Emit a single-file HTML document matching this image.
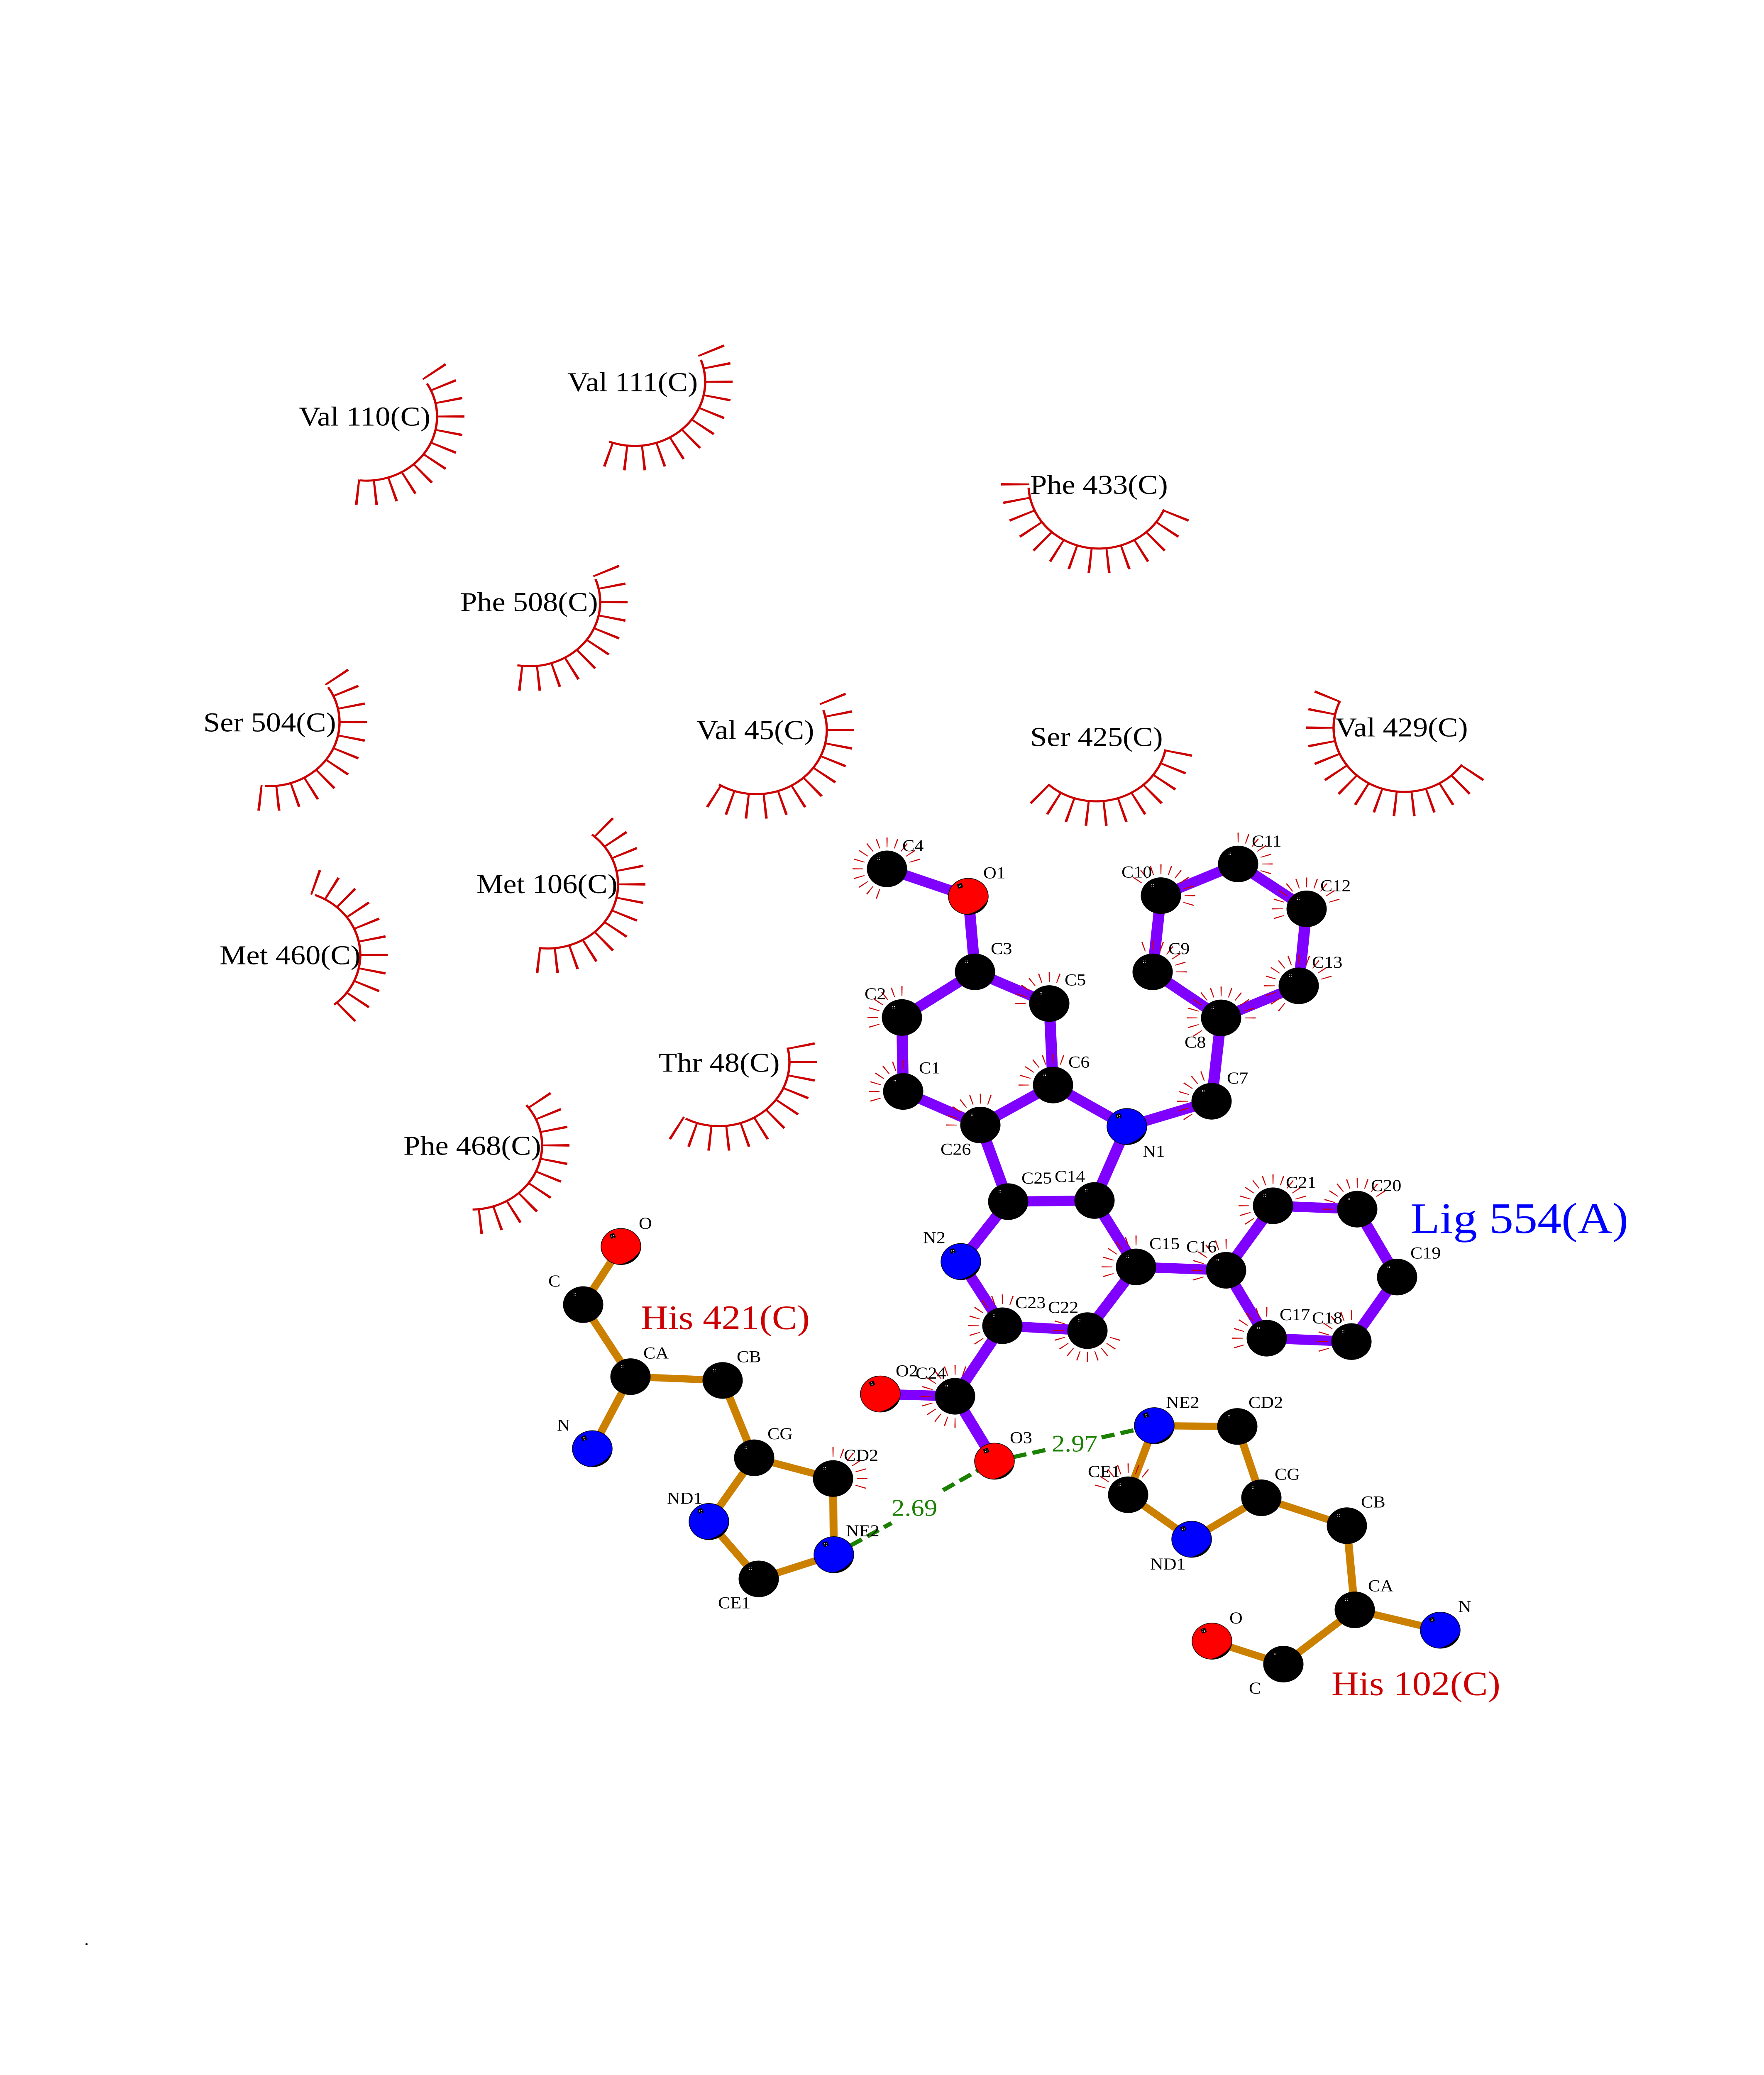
<!DOCTYPE html>
<html><head><meta charset="utf-8"><title>Lig 554(A)</title>
<style>
html,body{margin:0;padding:0;background:#fff;width:100%;height:100%;overflow:hidden}
svg{display:block;position:fixed;left:0;top:0;width:100vw;height:100vh}
text{font-family:"Liberation Serif",serif;fill:#000}
.l{font-size:44px}
.r{font-size:72.4px}
.p{stroke:#8000ff;stroke-width:27;fill:none}
.o{stroke:#cc8000;stroke-width:19;fill:none}
.g{stroke:#1a8000;stroke-width:11;fill:none;stroke-dasharray:32 15}
.a{stroke:#cc0000;stroke-width:5.5;fill:none}
.b{stroke:#cc0000;stroke-width:68;fill:none}
.s{stroke:#cc0000;stroke-width:26;fill:none}
.b11{stroke-dasharray:5.5 36.81 5.5 36.81 5.5 36.81 5.5 36.81 5.5 36.81 5.5 36.81 5.5 36.81 5.5 36.81 5.5 36.81 5.5 36.81 5.5 2000}
.b12{stroke-dasharray:5.5 36.81 5.5 36.81 5.5 36.81 5.5 36.81 5.5 36.81 5.5 36.81 5.5 36.81 5.5 36.81 5.5 36.81 5.5 36.81 5.5 36.81 5.5 2000}
.b13{stroke-dasharray:5.5 36.81 5.5 36.81 5.5 36.81 5.5 36.81 5.5 36.81 5.5 36.81 5.5 36.81 5.5 36.81 5.5 36.81 5.5 36.81 5.5 36.81 5.5 36.81 5.5 2000}
.b14{stroke-dasharray:5.5 36.81 5.5 36.81 5.5 36.81 5.5 36.81 5.5 36.81 5.5 36.81 5.5 36.81 5.5 36.81 5.5 36.81 5.5 36.81 5.5 36.81 5.5 36.81 5.5 36.81 5.5 2000}
.b15{stroke-dasharray:5.5 36.81 5.5 36.81 5.5 36.81 5.5 36.81 5.5 36.81 5.5 36.81 5.5 36.81 5.5 36.81 5.5 36.81 5.5 36.81 5.5 36.81 5.5 36.81 5.5 36.81 5.5 36.81 5.5 2000}
.s7{stroke-dasharray:2.5 19.49 2.5 19.49 2.5 19.49 2.5 19.49 2.5 19.49 2.5 19.49 2.5 1000}
.s9{stroke-dasharray:2.5 19.49 2.5 19.49 2.5 19.49 2.5 19.49 2.5 19.49 2.5 19.49 2.5 19.49 2.5 19.49 2.5 1000}
.s10{stroke-dasharray:2.5 19.49 2.5 19.49 2.5 19.49 2.5 19.49 2.5 19.49 2.5 19.49 2.5 19.49 2.5 19.49 2.5 19.49 2.5 1000}
.s11{stroke-dasharray:2.5 19.49 2.5 19.49 2.5 19.49 2.5 19.49 2.5 19.49 2.5 19.49 2.5 19.49 2.5 19.49 2.5 19.49 2.5 19.49 2.5 1000}
.s12{stroke-dasharray:2.5 19.49 2.5 19.49 2.5 19.49 2.5 19.49 2.5 19.49 2.5 19.49 2.5 19.49 2.5 19.49 2.5 19.49 2.5 19.49 2.5 19.49 2.5 1000}
.s13{stroke-dasharray:2.5 19.49 2.5 19.49 2.5 19.49 2.5 19.49 2.5 19.49 2.5 19.49 2.5 19.49 2.5 19.49 2.5 19.49 2.5 19.49 2.5 19.49 2.5 19.49 2.5 1000}
.s14{stroke-dasharray:2.5 19.49 2.5 19.49 2.5 19.49 2.5 19.49 2.5 19.49 2.5 19.49 2.5 19.49 2.5 19.49 2.5 19.49 2.5 19.49 2.5 19.49 2.5 19.49 2.5 19.49 2.5 1000}
</style></head>
<body>
<svg xmlns="http://www.w3.org/2000/svg" viewBox="0 0 4250 5500" preserveAspectRatio="none">
<defs>
<g id="c"><circle r="48.5" fill="#000"/><g fill="#fff"><circle cx="-22" cy="-29" r="1"/><circle cx="-18" cy="-29" r="1"/><circle cx="-22" cy="-25" r="1"/><circle cx="-18" cy="-25" r="1"/></g></g>
<g id="mark"><rect x="-26" y="-34" width="12" height="12" fill="#000" transform="rotate(-20 -20 -28)"/><g fill="#fff"><circle cx="-22" cy="-30" r="1"/><circle cx="-18" cy="-29" r="1"/><circle cx="-22" cy="-26" r="1"/><circle cx="-18" cy="-25" r="1"/></g>
<path d="M47 9A48 48 0 0 1-5 47.7A74 74 0 0 0 47 9Z" fill="#000"/></g>
<g id="rd"><circle r="48" fill="#ff0000" stroke="#000" stroke-width="1.5"/><use href="#mark"/></g>
<g id="bl"><circle r="48" fill="#0000ff" stroke="#000" stroke-width="1.5"/><use href="#mark"/></g>
</defs>
<rect width="4250" height="5500" fill="#fff"/>

<!-- hydrophobic arcs -->
<g>
<circle class="a" r="170" stroke-dasharray="374 2000" transform="translate(883 1104) rotate(-31)"/>
<circle class="b b12" r="202" transform="translate(883 1104) rotate(-36.8)"/>
<circle class="a" r="170" stroke-dasharray="389 2000" transform="translate(1529 1012) rotate(-20)"/>
<circle class="b b12" r="202" transform="translate(1529 1012) rotate(-24.8)"/>
<circle class="a" r="170" stroke-dasharray="457 2000" transform="translate(2648 1284) rotate(23)"/>
<circle class="b b14" r="202" transform="translate(2648 1284) rotate(23.2)"/>
<circle class="a" r="170" stroke-dasharray="359 2000" transform="translate(1276 1596) rotate(-21)"/>
<circle class="b b11" r="202" transform="translate(1276 1596) rotate(-24.8)"/>
<circle class="a" r="170" stroke-dasharray="374 2000" transform="translate(648 1914) rotate(-33)"/>
<circle class="b b12" r="202" transform="translate(648 1914) rotate(-36.8)"/>
<circle class="a" r="170" stroke-dasharray="415 2000" transform="translate(1822 1935) rotate(-18)"/>
<circle class="b b13" r="202" transform="translate(1822 1935) rotate(-24.8)"/>
<circle class="a" r="170" stroke-dasharray="359 2000" transform="translate(2641 1954) rotate(11)"/>
<circle class="b b11" r="202" transform="translate(2641 1954) rotate(11.2)"/>
<circle class="a" r="170" stroke-dasharray="501 2000" transform="translate(3383 1929) rotate(35)"/>
<circle class="b b15" r="202" transform="translate(3383 1929) rotate(35.2)"/>
<circle class="a" r="170" stroke-dasharray="436 2000" transform="translate(1319 2344) rotate(-51)"/>
<circle class="b b13" r="202" transform="translate(1319 2344) rotate(-48.8)"/>
<circle class="a" r="170" stroke-dasharray="356 2000" transform="translate(698 2531) rotate(-69)"/>
<circle class="b b11" r="202" transform="translate(698 2531) rotate(-72.8)"/>
<circle class="a" r="170" stroke-dasharray="389 2000" transform="translate(1732 2815) rotate(-13)"/>
<circle class="b b12" r="202" transform="translate(1732 2815) rotate(-12.8)"/>
<circle class="a" r="170" stroke-dasharray="380 2000" transform="translate(1136 3036) rotate(-39)"/>
<circle class="b b11" r="202" transform="translate(1136 3036) rotate(-36.8)"/>
</g>

<!-- ligand bonds -->
<path class="p" d="M2137 2303L2333 2376L2349 2576L2173 2697L2176 2893L2362 2982L2537 2876L2528 2660L2349 2576M2537 2876L2715 2986L2919 2919L2942 2698L2777 2576L2797 2374L2983 2290L3148 2409L3129 2613L2942 2698M2362 2982L2429 3185L2637 3182L2715 2986M2429 3185L2315 3344L2415 3514L2620 3527L2737 3358L2637 3182M2737 3358L2954 3367L3067 3196L3270 3205L3366 3385L3256 3556L3052 3547L2954 3367M2415 3514L2301 3701L2121 3695M2301 3701L2396 3873"/>

<!-- residue bonds -->
<path class="o" d="M1496 3304L1405 3458L1519 3649L1427 3840M1519 3649L1741 3659L1817 3864L2007 3919L2009 4121L1828 4185L1708 4033L1817 3864"/>
<path class="o" d="M2920 4350L3092 4411L3264 4267L3470 4321M3264 4267L3245 4044L3039 3970L2981 3781L2781 3779L2718 3962L2871 4080L3039 3970"/>

<!-- hydrogen bonds -->
<path class="g" d="M2009 4121L2148 4037M2272 3950L2396 3873"/>
<path class="g" d="M2396 3873L2525 3842M2654 3810L2781 3779"/>

<!-- atoms -->
<use href="#c" x="2137" y="2303"/><use href="#rd" x="2333" y="2376"/><use href="#c" x="2349" y="2576"/><use href="#c" x="2173" y="2697"/><use href="#c" x="2528" y="2660"/><use href="#c" x="2537" y="2876"/><use href="#c" x="2176" y="2893"/><use href="#c" x="2362" y="2982"/><use href="#bl" x="2715" y="2986"/><use href="#c" x="2919" y="2919"/><use href="#c" x="2942" y="2698"/><use href="#c" x="2777" y="2576"/><use href="#c" x="2797" y="2374"/><use href="#c" x="2983" y="2290"/><use href="#c" x="3148" y="2409"/><use href="#c" x="3129" y="2613"/><use href="#c" x="2429" y="3185"/><use href="#c" x="2637" y="3182"/><use href="#bl" x="2315" y="3344"/><use href="#c" x="2737" y="3358"/><use href="#c" x="2954" y="3367"/><use href="#c" x="3067" y="3196"/><use href="#c" x="3270" y="3205"/><use href="#c" x="3366" y="3385"/><use href="#c" x="3256" y="3556"/><use href="#c" x="3052" y="3547"/><use href="#c" x="2415" y="3514"/><use href="#c" x="2620" y="3527"/><use href="#c" x="2301" y="3701"/><use href="#rd" x="2121" y="3695"/><use href="#rd" x="2396" y="3873"/>
<use href="#rd" x="1496" y="3304"/><use href="#c" x="1405" y="3458"/><use href="#c" x="1519" y="3649"/><use href="#c" x="1741" y="3659"/><use href="#bl" x="1427" y="3840"/><use href="#c" x="1817" y="3864"/><use href="#c" x="2007" y="3919"/><use href="#bl" x="1708" y="4033"/><use href="#bl" x="2009" y="4121"/><use href="#c" x="1828" y="4185"/>
<use href="#bl" x="2781" y="3779"/><use href="#c" x="2981" y="3781"/><use href="#c" x="2718" y="3962"/><use href="#c" x="3039" y="3970"/><use href="#bl" x="2871" y="4080"/><use href="#c" x="3245" y="4044"/><use href="#c" x="3264" y="4267"/><use href="#bl" x="3470" y="4321"/><use href="#rd" x="2920" y="4350"/><use href="#c" x="3092" y="4411"/>

<!-- small contact ticks -->
<g>
<circle class="s s14" r="70" transform="translate(2137 2303) rotate(107)"/>
<circle class="s s7" r="70" transform="translate(2173 2697) rotate(161)"/>
<circle class="s s7" r="70" transform="translate(2528 2660) rotate(179)"/>
<circle class="s s7" r="70" transform="translate(2176 2893) rotate(161)"/>
<circle class="s s7" r="70" transform="translate(2362 2982) rotate(179)"/>
<circle class="s s7" r="70" transform="translate(2537 2876) rotate(179)"/>
<circle class="s s7" r="70" transform="translate(2919 2919) rotate(143)"/>
<circle class="s s13" r="70" transform="translate(2942 2698) rotate(143)"/>
<circle class="s s7" r="70" transform="translate(2777 2576) rotate(-109)"/>
<circle class="s s10" r="70" transform="translate(2797 2374) rotate(-145)"/>
<circle class="s s7" r="70" transform="translate(2983 2290) rotate(-91)"/>
<circle class="s s11" r="70" transform="translate(3148 2409) rotate(161)"/>
<circle class="s s13" r="70" transform="translate(3129 2613) rotate(125)"/>
<circle class="s s12" r="70" transform="translate(3067 3196) rotate(143)"/>
<circle class="s s9" r="70" transform="translate(3270 3205) rotate(179)"/>
<circle class="s s7" r="70" transform="translate(3256 3556) rotate(161)"/>
<circle class="s s7" r="70" transform="translate(3052 3547) rotate(161)"/>
<circle class="s s7" r="70" transform="translate(2954 3367) rotate(161)"/>
<circle class="s s7" r="70" transform="translate(2737 3358) rotate(161)"/>
<circle class="s s9" r="70" transform="translate(2415 3514) rotate(143)"/>
<circle class="s s11" r="70" transform="translate(2620 3527) rotate(17)"/>
<circle class="s s12" r="70" transform="translate(2301 3701) rotate(89)"/>
<circle class="s s7" r="70" transform="translate(2007 3919) rotate(-91)"/>
<circle class="s s7" r="70" transform="translate(2718 3962) rotate(-163)"/>
</g>

<!-- residue labels -->
<g class="r">
<text class="r" x="720" y="1128">Val 110(C)</text>
<text class="r" x="1367" y="1037">Val 111(C)</text>
<text class="r" x="2482" y="1309">Phe 433(C)</text>
<text class="r" x="1109" y="1620">Phe 508(C)</text>
<text class="r" x="490" y="1939">Ser 504(C)</text>
<text class="r" x="1678" y="1959">Val 45(C)</text>
<text class="r" x="2482" y="1977">Ser 425(C)</text>
<text class="r" x="3217" y="1952">Val 429(C)</text>
<text class="r" x="1148" y="2367">Met 106(C)</text>
<text class="r" x="529" y="2556">Met 460(C)</text>
<text class="r" x="1587" y="2841">Thr 48(C)</text>
<text class="r" x="972" y="3061">Phe 468(C)</text>
</g>
<text x="3398" y="3268" style="font-size:116px;fill:#0000ff">Lig 554(A)</text>
<text x="1544" y="3523" style="font-size:91px;fill:#cc0000">His 421(C)</text>
<text x="3208" y="4493" style="font-size:91px;fill:#cc0000">His 102(C)</text>
<text x="2148" y="4018" style="font-size:63px;fill:#1a8000">2.69</text>
<text x="2534" y="3847" style="font-size:63px;fill:#1a8000">2.97</text>

<!-- atom labels -->
<text class="l" x="2174" y="2256">C4</text>
<text class="l" x="2369" y="2328">O1</text>
<text class="l" x="2387" y="2529">C3</text>
<text class="l" x="2565" y="2612">C5</text>
<text class="l" x="2083" y="2649">C2</text>
<text class="l" x="2214" y="2845">C1</text>
<text class="l" x="2574" y="2830">C6</text>
<text class="l" x="2266" y="3061">C26</text>
<text class="l" x="2753" y="3066">N1</text>
<text class="l" x="2956" y="2872">C7</text>
<text class="l" x="2854" y="2777">C8</text>
<text class="l" x="2815" y="2529">C9</text>
<text class="l" x="2702" y="2326">C10</text>
<text class="l" x="3016" y="2244">C11</text>
<text class="l" x="3181" y="2362">C12</text>
<text class="l" x="3161" y="2565">C13</text>
<text class="l" x="3098" y="3149">C21</text>
<text class="l" x="2461" y="3137">C25</text>
<text class="l" x="2541" y="3133">C14</text>
<text class="l" x="2224" y="3295">N2</text>
<text class="l" x="2769" y="3311">C15</text>
<text class="l" x="2858" y="3319">C16</text>
<text class="l" x="3083" y="3499">C17</text>
<text class="l" x="3161" y="3508">C18</text>
<text class="l" x="2446" y="3467">C23</text>
<text class="l" x="2525" y="3480">C22</text>
<text class="l" x="2158" y="3648">O2</text>
<text class="l" x="2206" y="3654">C24</text>
<text class="l" x="2433" y="3825">O3</text>
<text class="l" x="3303" y="3157">C20</text>
<text class="l" x="3398" y="3336">C19</text>
<text class="l" x="2809" y="3732">NE2</text>
<text class="l" x="3008" y="3732">CD2</text>
<text class="l" x="2621" y="3915">CE1</text>
<text class="l" x="3071" y="3922">CG</text>
<text class="l" x="3279" y="3996">CB</text>
<text class="l" x="2771" y="4160">ND1</text>
<text class="l" x="3296" y="4218">CA</text>
<text class="l" x="3513" y="4273">N</text>
<text class="l" x="2962" y="4303">O</text>
<text class="l" x="3009" y="4489">C</text>
<text class="l" x="2033" y="3872">CD2</text>
<text class="l" x="1539" y="3257">O</text>
<text class="l" x="1321" y="3410">C</text>
<text class="l" x="1550" y="3601">CA</text>
<text class="l" x="1775" y="3611">CB</text>
<text class="l" x="1342" y="3792">N</text>
<text class="l" x="1849" y="3815">CG</text>
<text class="l" x="1607" y="3986">ND1</text>
<text class="l" x="2038" y="4072">NE2</text>
<text class="l" x="1730" y="4263">CE1</text>
<text class="l" x="203" y="5155">.</text>
</svg>
</body></html>
